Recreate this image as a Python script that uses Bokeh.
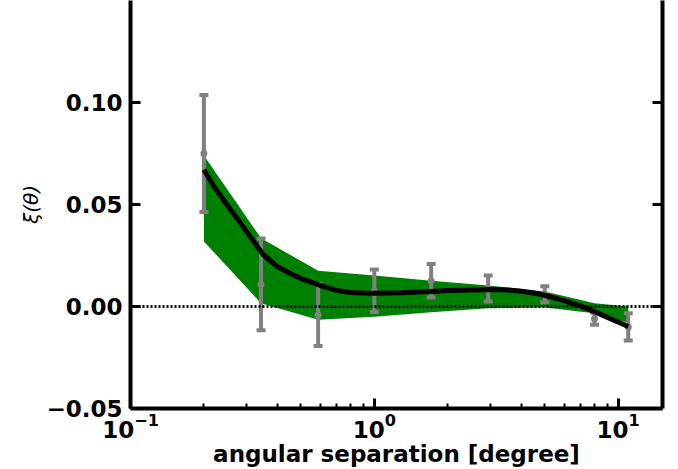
from bokeh.plotting import figure
from bokeh.models import (Range1d, FixedTicker, LinearAxis, Span, LogTickFormatter,
                          CustomJSTickFormatter)
from bokeh.embed import file_html
from bokeh.resources import INLINE

# angular separation of the measured points [degree]
theta = [0.2, 0.343, 0.588, 1.0, 1.71, 2.93, 5.0, 8.0, 11.0]
xi = [0.075, 0.0108, -0.0042, 0.0077, 0.0126, 0.0088, 0.006, -0.006, -0.010]
xi_err = [0.0287, 0.0225, 0.0152, 0.0104, 0.0082, 0.0064, 0.0039, 0.0029, 0.0067]

# green model band
band_upper = [0.074, 0.0335, 0.0175, 0.0152, 0.0126, 0.0103, 0.0074, 0.0016, 0.0]
band_lower = [0.0319, 0.0016, -0.0065, -0.005, -0.0028, -0.0008, -0.0005, -0.0033, -0.008]

# black model curve
model_theta = [0.2, 0.22, 0.25, 0.28, 0.3, 0.35, 0.4, 0.45, 0.5, 0.55, 0.6, 0.7, 0.8,
               0.9, 1.0, 1.3, 1.7, 2.0, 2.5, 3.0, 3.5, 4.0, 4.5, 5.0, 6.0, 7.0, 8.0,
               9.5, 11.0]
model_xi = [0.067, 0.0588, 0.0495, 0.0415, 0.0365, 0.0255, 0.0196, 0.0163, 0.0137,
            0.012, 0.0103, 0.0079, 0.0069, 0.0066, 0.0065, 0.0068, 0.0074, 0.0078,
            0.0081, 0.0083, 0.0081, 0.0075, 0.0066, 0.0055, 0.0029, 0.0003, -0.0025,
            -0.0065, -0.0098]

x_major = [0.1, 1, 10]
x_minor = [0.2, 0.3, 0.4, 0.5, 0.6, 0.7, 0.8, 0.9, 2, 3, 4, 5, 6, 7, 8, 9]
y_ticks = [-0.05, 0.0, 0.05, 0.10]

FONT = "DejaVu Sans"

p = figure(width=678, height=469, x_axis_type="log",
           x_range=Range1d(0.1, 15.2), y_range=Range1d(-0.05, 0.15),
           output_backend="svg", toolbar_location=None,
           min_border_left=130, min_border_right=16, min_border_top=0,
           min_border_bottom=60)
p.outline_line_color = None
p.xgrid.visible = False
p.ygrid.visible = False
p.background_fill_color = "white"
p.border_fill_color = "white"

p.varea(x=theta, y1=band_lower, y2=band_upper, fill_color="#008000")
p.add_layout(Span(location=0, dimension="width", line_color="black",
                  line_width=3, line_dash="2 2"))

lo = [v - e for v, e in zip(xi, xi_err)]
hi = [v + e for v, e in zip(xi, xi_err)]
p.segment(x0=theta, y0=lo, x1=theta, y1=hi, line_color="#808080", line_width=4)
p.scatter(x=theta, y=lo, marker="dash", size=9, line_width=4, line_color="#808080")
p.scatter(x=theta, y=hi, marker="dash", size=9, line_width=4, line_color="#808080")
p.scatter(x=theta, y=xi, marker="circle", size=7, fill_color="#808080", line_color=None)

p.line(x=model_theta, y=model_xi, line_color="black", line_width=5)

# x axis
xa = p.xaxis[0]
xa.ticker = FixedTicker(ticks=x_major, minor_ticks=x_minor)
xa.formatter = LogTickFormatter()
xa.axis_label = "angular separation [degree]"

# y axis
ya = p.yaxis[0]
ya.ticker = FixedTicker(ticks=y_ticks)
ya.formatter = CustomJSTickFormatter(code="return tick.toFixed(2).replace('-', '\u2212');")
ya.axis_label = "ξ(θ)"
ya.axis_label_text_font_style = "italic"
ya.axis_label_text_font_size = "20px"
ya.axis_label_standoff = 0

ra = LinearAxis(ticker=FixedTicker(ticks=y_ticks),
                formatter=CustomJSTickFormatter(code="return '';"))
ra.major_label_standoff = 0
p.add_layout(ra, "right")

for ax in [xa, ya, ra]:
    ax.axis_line_width = 4
    ax.axis_line_color = "black"
    ax.major_tick_in = 10
    ax.major_tick_out = 0
    ax.major_tick_line_width = 3
    ax.major_tick_line_color = "black"
    ax.minor_tick_in = 5
    ax.minor_tick_out = 0
    ax.minor_tick_line_width = 2
    ax.major_label_text_font = FONT
    ax.major_label_text_font_style = "bold"
    ax.axis_label_text_font = FONT
    ax.axis_label_text_color = "black"
    ax.major_label_text_color = "black"
xa.major_label_text_font_size = "23px"
ya.major_label_text_font_size = "23px"
ra.major_label_text_font_size = "10px"
xa.axis_label_text_font_size = "23px"
xa.axis_label_text_font_style = "bold"
xa.major_label_standoff = 4
xa.axis_label_standoff = 0
ya.major_label_standoff = 8
ya.minor_tick_line_color = None
ra.minor_tick_line_color = None

open("out.html", "w").write(file_html(p, INLINE))
